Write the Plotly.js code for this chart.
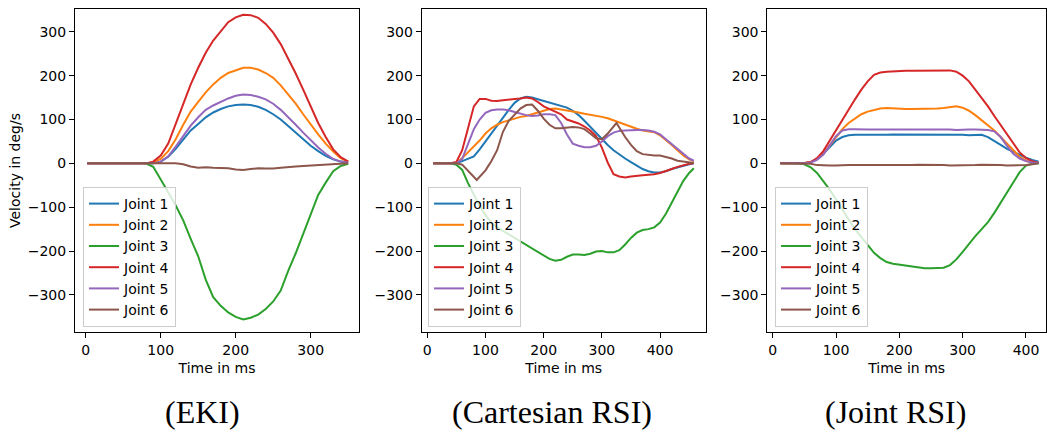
<!DOCTYPE html>
<html>
<head>
<meta charset="utf-8">
<script src="https://cdn.plot.ly/plotly-3.0.1.min.js"></script>
<style>html,body{margin:0;padding:0;background:#fff;}#chart{width:1047px;height:433px;}</style>
</head>
<body>
<div id="chart"></div>
<script>
// ---------- Data ----------
const jointNames = ['Joint 1', 'Joint 2', 'Joint 3', 'Joint 4', 'Joint 5', 'Joint 6'];
const jointColors = ['#1f77b4', '#ff7f0e', '#2ca02c', '#d62728', '#9467bd', '#8c564b'];
const panelCaptions = ['(EKI)', '(Cartesian RSI)', '(Joint RSI)'];
const yTickValues = [-300, -200, -100, 0, 100, 200, 300];
const xTicksEKI = [0, 100, 200, 300];
const xTicksCart = [0, 100, 200, 300, 400];
const xTicksJoint = [0, 100, 200, 300, 400];

// EKI
const ekiTime = [2,10,20,30,40,50,60,70,80,90,100,110,120,130,140,150,160,170,180,190,200,210,220,230,240,250,260,270,280,290,300,310,320,330,340,350];
const ekiJ1 = [0,0,0,0,0,0,0,0,0,0,4,15,33,55,75,90,105,116,124,130,133,134,133,129,122,112,100,85,70,54,40,28,17,9,4,2];
const ekiJ2 = [0,0,0,0,0,0,0,0,0,2,10,28,55,88,118,140,162,180,195,206,212,218,218,214,206,195,178,158,136,112,88,66,45,27,12,4];
const ekiJ3 = [0,0,0,0,0,0,0,0,0,-8,-36,-66,-96,-130,-172,-212,-265,-305,-325,-340,-350,-356,-352,-345,-332,-315,-290,-245,-205,-160,-115,-72,-44,-18,-6,-1];
const ekiJ4 = [0,0,0,0,0,0,0,0,0,4,18,45,90,138,180,218,252,280,300,322,333,339,338,332,318,298,272,240,205,168,130,92,60,32,14,4];
const ekiJ5 = [0,0,0,0,0,0,0,0,0,0,4,16,38,62,86,105,122,132,140,148,154,157,156,152,146,136,122,106,88,70,52,36,22,10,4,2];
const ekiJ6 = [0,0,0,0,0,0,0,0,0,0,0,0,0,-2,-7,-10,-9,-10,-10,-11,-14,-15,-13,-11,-12,-12,-10,-8,-7,-6,-5,-3,-2,-1,0,0];

// Cartesian RSI
const cartTime = [10,20,30,40,50,60,70,80,90,100,110,120,130,140,150,160,170,180,190,200,210,220,230,240,250,260,270,280,290,300,310,320,330,340,350,360,370,380,390,400,410,420,430,440,450,458];
const cartJ1 = [0,0,0,0,0,5,10,16,32,50,68,85,105,122,138,148,152,150,146,142,138,134,131,127,120,110,97,83,69,55,42,30,20,11,3,-6,-13,-18,-21,-21,-18,-13,-9,-5,-2,0];
const cartJ2 = [0,0,0,0,0,12,25,38,52,68,80,88,94,98,102,106,108,112,117,121,124,125,123,121,119,116,113,111,109,106,103,98,94,88,83,79,75,73,71,64,54,42,30,18,9,5];
const cartJ3 = [0,0,0,0,-3,-15,-45,-72,-97,-118,-135,-146,-154,-162,-170,-178,-186,-194,-202,-210,-218,-222,-220,-213,-208,-208,-209,-206,-201,-200,-203,-203,-198,-185,-170,-158,-152,-150,-146,-135,-115,-90,-64,-40,-22,-11];
const cartJ4 = [0,0,0,0,3,30,80,130,147,147,143,142,144,146,147,148,150,148,140,130,124,118,112,100,95,91,84,75,62,36,2,-25,-30,-32,-30,-28,-27,-26,-25,-22,-18,-13,-8,-4,-1,0];
const cartJ5 = [0,0,0,0,0,10,45,78,100,115,121,123,123,121,117,113,110,108,109,112,112,110,92,66,45,40,37,37,40,50,62,70,74,75,76,76,76,75,72,66,55,44,32,20,11,6];
const cartJ6Time = [10,20,30,40,50,60,70,85,100,110,120,130,140,150,160,170,180,190,200,210,220,230,240,250,260,270,280,290,300,310,325,340,350,360,370,380,390,400,410,420,430,440,450,458];
const cartJ6 = [0,0,0,0,0,-3,-18,-38,-16,5,30,72,97,112,125,133,134,120,102,88,80,80,82,83,82,78,68,57,55,68,92,60,42,28,21,19,18,18,15,11,6,4,2,1];

// Joint RSI
const jointTime = [12,20,30,40,50,60,70,80,90,100,110,120,130,140,150,160,170,180,190,200,210,220,230,240,250,260,270,280,290,300,310,320,330,340,350,360,370,380,390,400,410,420];
const jointJ1 = [0,0,0,0,0,3,10,22,38,52,60,64,65,65,64,64,65,65,66,66,66,66,65,65,66,66,66,65,65,65,64,65,65,60,50,42,33,26,20,13,8,4];
const jointJ2 = [0,0,0,0,0,3,10,22,40,58,78,92,103,112,118,122,125,126,125,125,124,124,124,124,124,125,126,128,130,127,120,110,98,87,75,60,45,30,15,6,2,1];
const jointJ3 = [0,0,0,0,-2,-9,-22,-40,-60,-82,-106,-128,-150,-168,-186,-204,-216,-225,-229,-231,-233,-236,-238,-239,-239,-239,-238,-232,-219,-202,-183,-166,-150,-134,-113,-90,-66,-42,-20,-5,-1,0];
const jointJ4 = [0,0,0,0,1,3,12,28,52,77,100,124,146,168,187,202,207,209,210,210,211,211,211,212,212,212,212,212,209,200,187,168,150,130,108,87,66,45,25,12,5,1];
const jointJ5 = [0,0,0,0,0,2,8,20,40,62,75,78,78,77,77,77,77,77,77,77,77,78,77,77,78,77,77,77,76,77,77,77,77,76,73,60,40,22,11,5,2,1];
const jointJ6 = [0,0,0,0,0,-1,-4,-5,-5,-5,-4,-4,-4,-4,-4,-5,-5,-5,-4,-4,-4,-4,-3,-3,-4,-4,-4,-5,-5,-5,-4,-4,-3,-3,-4,-4,-5,-5,-5,-4,-2,0];

// ---------- Build traces ----------
const panels = [
  {x: [ekiTime, ekiTime, ekiTime, ekiTime, ekiTime, ekiTime], y: [ekiJ1, ekiJ2, ekiJ3, ekiJ4, ekiJ5, ekiJ6], xa: 'x', ya: 'y', legend: 'legend'},
  {x: [cartTime, cartTime, cartTime, cartTime, cartTime, cartJ6Time], y: [cartJ1, cartJ2, cartJ3, cartJ4, cartJ5, cartJ6], xa: 'x2', ya: 'y2', legend: 'legend2'},
  {x: [jointTime, jointTime, jointTime, jointTime, jointTime, jointTime], y: [jointJ1, jointJ2, jointJ3, jointJ4, jointJ5, jointJ6], xa: 'x3', ya: 'y3', legend: 'legend3'}
];
const traces = [];
panels.forEach(p => {
  for (let j = 0; j < 6; j++) {
    traces.push({
      type: 'scatter', mode: 'lines',
      x: p.x[j], y: p.y[j],
      name: jointNames[j],
      line: {color: jointColors[j], width: 2},
      xaxis: p.xa, yaxis: p.ya,
      legend: p.legend,
      hoverinfo: 'skip'
    });
  }
});

// ---------- Layout ----------
const W = 1047, H = 433;
const plotTop = 9, plotBottom = 332;
const yDom = [(H - plotBottom) / H, (H - plotTop) / H];
const axisBase = {
  showline: true, linecolor: '#000', linewidth: 1, mirror: true,
  ticks: 'outside', ticklen: 5, tickwidth: 1, tickcolor: '#000',
  showgrid: false, zeroline: false, automargin: false,
  tickfont: {family: 'DejaVu Sans', size: 14, color: '#000'}
};
function xAxis(l, r, range, ticks, anchor) {
  return Object.assign({}, axisBase, {
    domain: [l / W, r / W], range: range, tickvals: ticks, anchor: anchor,
    title: {text: 'Time in ms', font: {family: 'DejaVu Sans', size: 14, color: '#000'}, standoff: 6}
  });
}
function yAxis(anchor, title) {
  const a = Object.assign({}, axisBase, {
    domain: yDom, range: [-384.6, 352], tickvals: yTickValues, anchor: anchor
  });
  if (title) a.title = {text: title, font: {family: 'DejaVu Sans', size: 14, color: '#000'}, standoff: 3};
  return a;
}
function legendAt(leftPx) {
  return {
    x: leftPx / W, y: (H - 327) / H, xanchor: 'left', yanchor: 'bottom',
    bgcolor: 'rgba(255,255,255,0.8)', bordercolor: '#cccccc', borderwidth: 1,
    font: {family: 'DejaVu Sans', size: 14, color: '#000'}
  };
}
const captionCenters = [202, 552, 895];
const layout = {
  width: W, height: H,
  margin: {l: 0, r: 0, t: 0, b: 0},
  paper_bgcolor: '#fff', plot_bgcolor: '#fff',
  font: {family: 'DejaVu Sans', size: 14, color: '#000'},
  showlegend: true,
  xaxis: xAxis(75, 359, [-14.3, 364.4], xTicksEKI, 'y'),
  yaxis: yAxis('x', 'Velocity in deg/s'),
  xaxis2: xAxis(421.7, 705.7, [-9.6, 478.4], xTicksCart, 'y2'),
  yaxis2: yAxis('x2'),
  xaxis3: xAxis(767.3, 1046, [-8.5, 431.6], xTicksJoint, 'y3'),
  yaxis3: yAxis('x3'),
  legend: legendAt(83),
  legend2: legendAt(428),
  legend3: legendAt(775),
  annotations: panelCaptions.map((t, i) => ({
    text: t, xref: 'paper', yref: 'paper',
    x: captionCenters[i] / W, y: (H - 412) / H, xanchor: 'center', yanchor: 'middle',
    showarrow: false, font: {family: 'Liberation Serif', size: 32, color: '#000'}
  }))
};
Plotly.newPlot('chart', traces, layout, {displayModeBar: false, staticPlot: true});
</script>
</body>
</html>
